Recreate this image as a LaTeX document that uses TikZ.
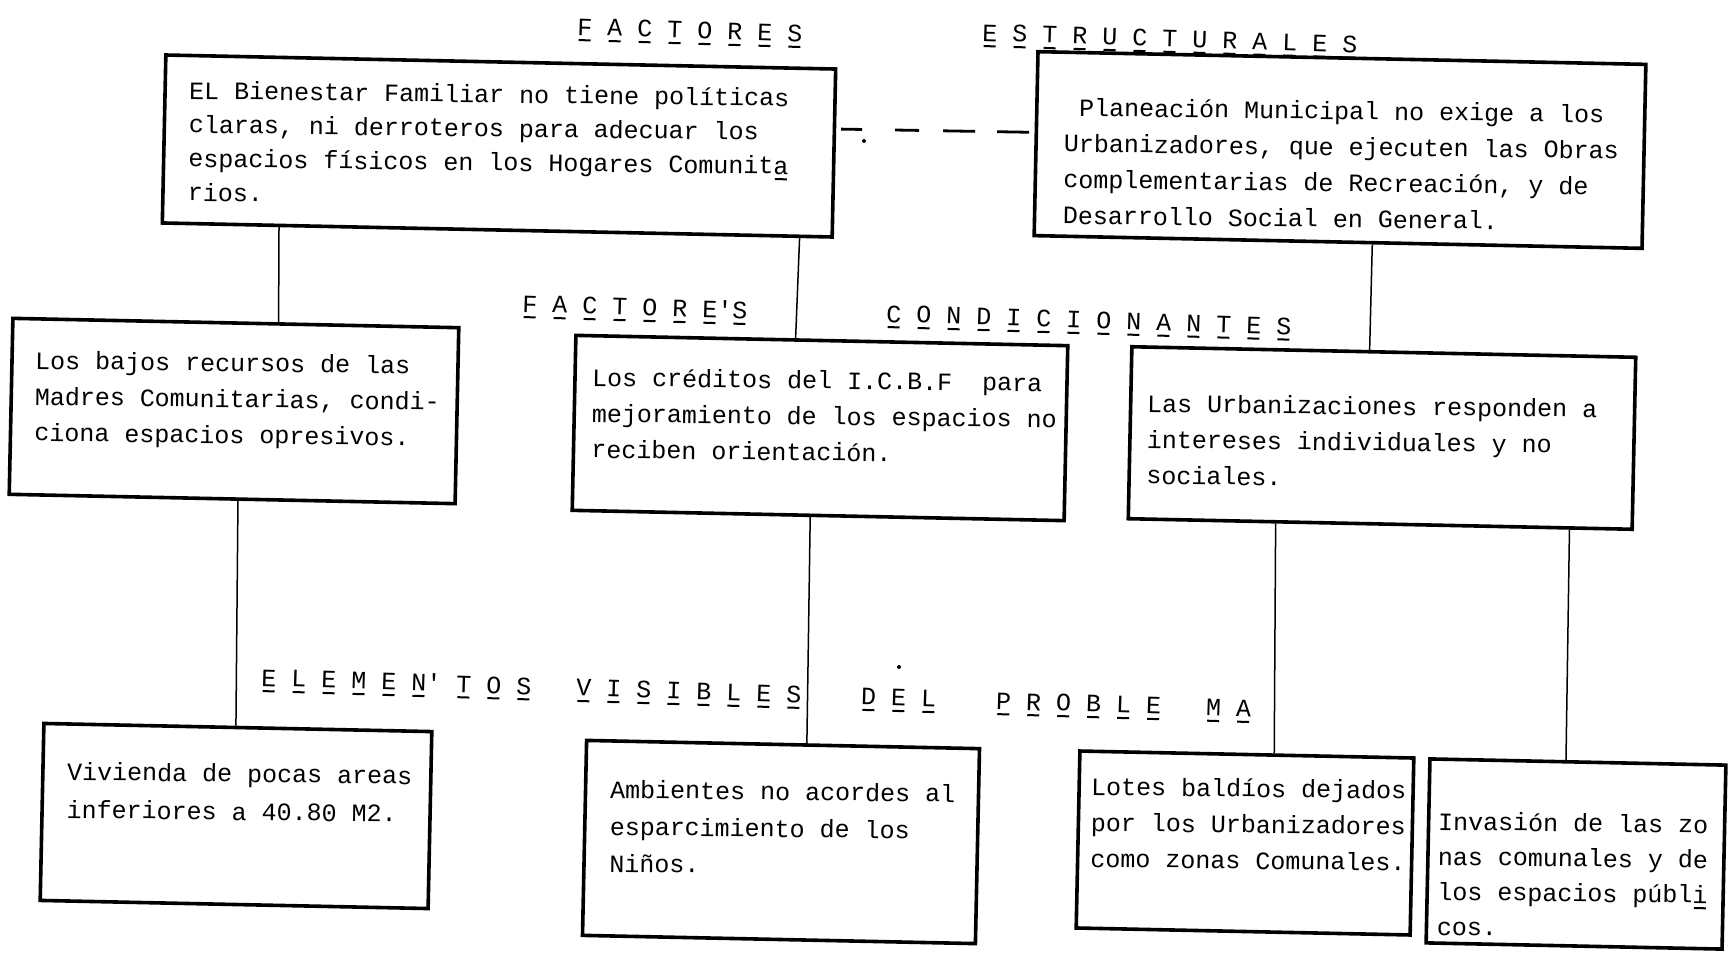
\documentclass[tikz,border=0pt]{standalone}
\usepackage{fontspec}
\usetikzlibrary{calc}
\newfontfamily\tw{Liberation Mono}
\newcommand{\ux}[1]{\makebox[0pt][l]{\hspace{1.5pt}\rule[-6pt]{12pt}{2pt}}#1}
\newcommand{\tlines}[2][36]{{\fontsize{25}{#1}\selectfont\begin{tabular}[t]{@{}l@{}}#2\end{tabular}}}
\newcommand{\ttl}[1]{{\fontsize{25}{30}\selectfont #1}}
\begin{document}
\begin{tikzpicture}[x=1pt,y=-1pt,
  box/.style={draw=black, line width=3.6pt, inner sep=0pt, rotate=-1.2},
  txt/.style={font=\tw, inner sep=0pt, anchor=base west, text=black, rotate=-0.7},
  head/.style={txt, rotate=-1.1},
  link/.style={line width=1.5pt, draw=black},
  dashlink/.style={line width=2.8pt, draw=black,
    dash pattern=on 0pt off 5pt on 21pt off 33pt on 24pt off 24pt on 32pt off 22pt on 32pt off 20pt},
  speck/.style={circle, fill=black, inner sep=0pt, minimum size=4pt}]
\useasboundingbox[fill=white] (0,0) rectangle (1729,955);

% titles
\node[head] (h1) at (577,35) {\ttl{\ux{F} \ux{A} \ux{C} \ux{T} \ux{O} \ux{R} \ux{E} \ux{S}}};
\node[head] (h2) at (982,41) {\ttl{\ux{E} \ux{S} \ux{T} \ux{R} \ux{U} \ux{C} \ux{T} \ux{U} \ux{R} \ux{A} \ux{L} \ux{E} \ux{S}}};
\node[head] (h3) at (522,312) {\ttl{\ux{F} \ux{A} \ux{C} \ux{T} \ux{O} \ux{R} \ux{E}'\ux{S}}};
\node[head] (h4) at (886,322) {\ttl{\ux{C} \ux{O} \ux{N} \ux{D} \ux{I} \ux{C} \ux{I} \ux{O} \ux{N} \ux{A} \ux{N} \ux{T} \ux{E} \ux{S}}};
\node[head] (h5) at (261,686) {\ttl{\ux{E} \ux{L} \ux{E} \ux{M} \ux{E} \ux{N}' \ux{T} \ux{O} \ux{S}~~~\ux{V} \ux{I} \ux{S} \ux{I} \ux{B} \ux{L} \ux{E} \ux{S}~~~~\ux{D} \ux{E} \ux{L}~~~~\ux{P} \ux{R} \ux{O} \ux{B} \ux{L} \ux{E}~~~\ux{M} \ux{A}}};

% boxes (centre, width, height)
\node[box, minimum width=670pt, minimum height=168pt] (b1) at (499,146) {};
\node[box, minimum width=608pt, minimum height=184pt] (b2) at (1340,150) {};
\node[box, minimum width=446pt, minimum height=176pt] (b3) at (234,411) {};
\node[box, minimum width=492pt, minimum height=175pt] (b4) at (820,428) {};
\node[box, minimum width=504pt, minimum height=172pt] (b5) at (1382,438) {};
\node[box, minimum width=388pt, minimum height=177pt] (b6) at (236,816) {};
\node[box, minimum width=393pt, minimum height=195pt] (b7) at (781,842) {};
\node[box, minimum width=334pt, minimum height=177pt] (b8) at (1245,843) {};
\node[box, minimum width=296pt, minimum height=184pt] (b9) at (1576,854) {};

% texts
\node[txt] (t1) at (189,99) {\tlines[34]{EL Bienestar Familiar no tiene políticas\\claras, ni derroteros para adecuar los\\espacios físicos en los Hogares Comunit\ux{a}\\rios.}};
\node[txt] (t2) at (1064,116) {\tlines[36]{~Planeación Municipal no exige a los\\Urbanizadores, que ejecuten las Obras\\complementarias de Recreación, y de\\Desarrollo Social en General.}};
\node[txt] (t3) at (35,369) {\tlines[36]{Los bajos recursos de las\\Madres Comunitarias, condi-\\ciona espacios opresivos.}};
\node[txt] (t4) at (592,386) {\tlines[36]{Los créditos del I.C.B.F~ para\\mejoramiento de los espacios no\\reciben orientación.}};
\node[txt] (t5) at (1147,412) {\tlines[36]{Las Urbanizaciones responden a\\intereses individuales y no\\sociales.}};
\node[txt] (t6) at (67,780) {\tlines[38]{Vivienda de pocas areas\\inferiores a 40.80 M2.}};
\node[txt] (t7) at (610,798) {\tlines[37]{Ambientes no acordes al\\esparcimiento de los\\Niños.}};
\node[txt] (t8) at (1091,795) {\tlines[36]{Lotes baldíos dejados\\por los Urbanizadores\\como zonas Comunales.}};
\node[txt] (t9) at (1438,830) {\tlines[35]{Invasión de las zo\\nas comunales y de\\los espacios públ\ux{i}\\cos.}};

% connectors
\draw[link] ($(b1.south west)!0.176!(b1.south east)$) -- ($(b3.north west)!0.595!(b3.north east)$);
\draw[link] ($(b1.south west)!0.949!(b1.south east)$) -- ($(b4.north west)!0.447!(b4.north east)$);
\draw[link] ($(b2.south west)!0.556!(b2.south east)$) -- ($(b5.north west)!0.472!(b5.north east)$);
\draw[link] ($(b3.south west)!0.513!(b3.south east)$) -- ($(b6.north west)!0.495!(b6.north east)$);
\draw[link] ($(b4.south west)!0.484!(b4.south east)$) -- ($(b7.north west)!0.560!(b7.north east)$);
\draw[link] ($(b5.south west)!0.294!(b5.south east)$) -- ($(b8.north west)!0.581!(b8.north east)$);
\draw[link] ($(b5.south west)!0.873!(b5.south east)$) -- ($(b9.north west)!0.460!(b9.north east)$);
\draw[dashlink] ($(b1.north east)!0.36!(b1.south east)$) -- ($(b2.north west)!0.44!(b2.south west)$);

% stray marks
\node[speck] (s1) at (864,141) {};
\node[speck] (s2) at (899,667) {};
\end{tikzpicture}
\end{document}
